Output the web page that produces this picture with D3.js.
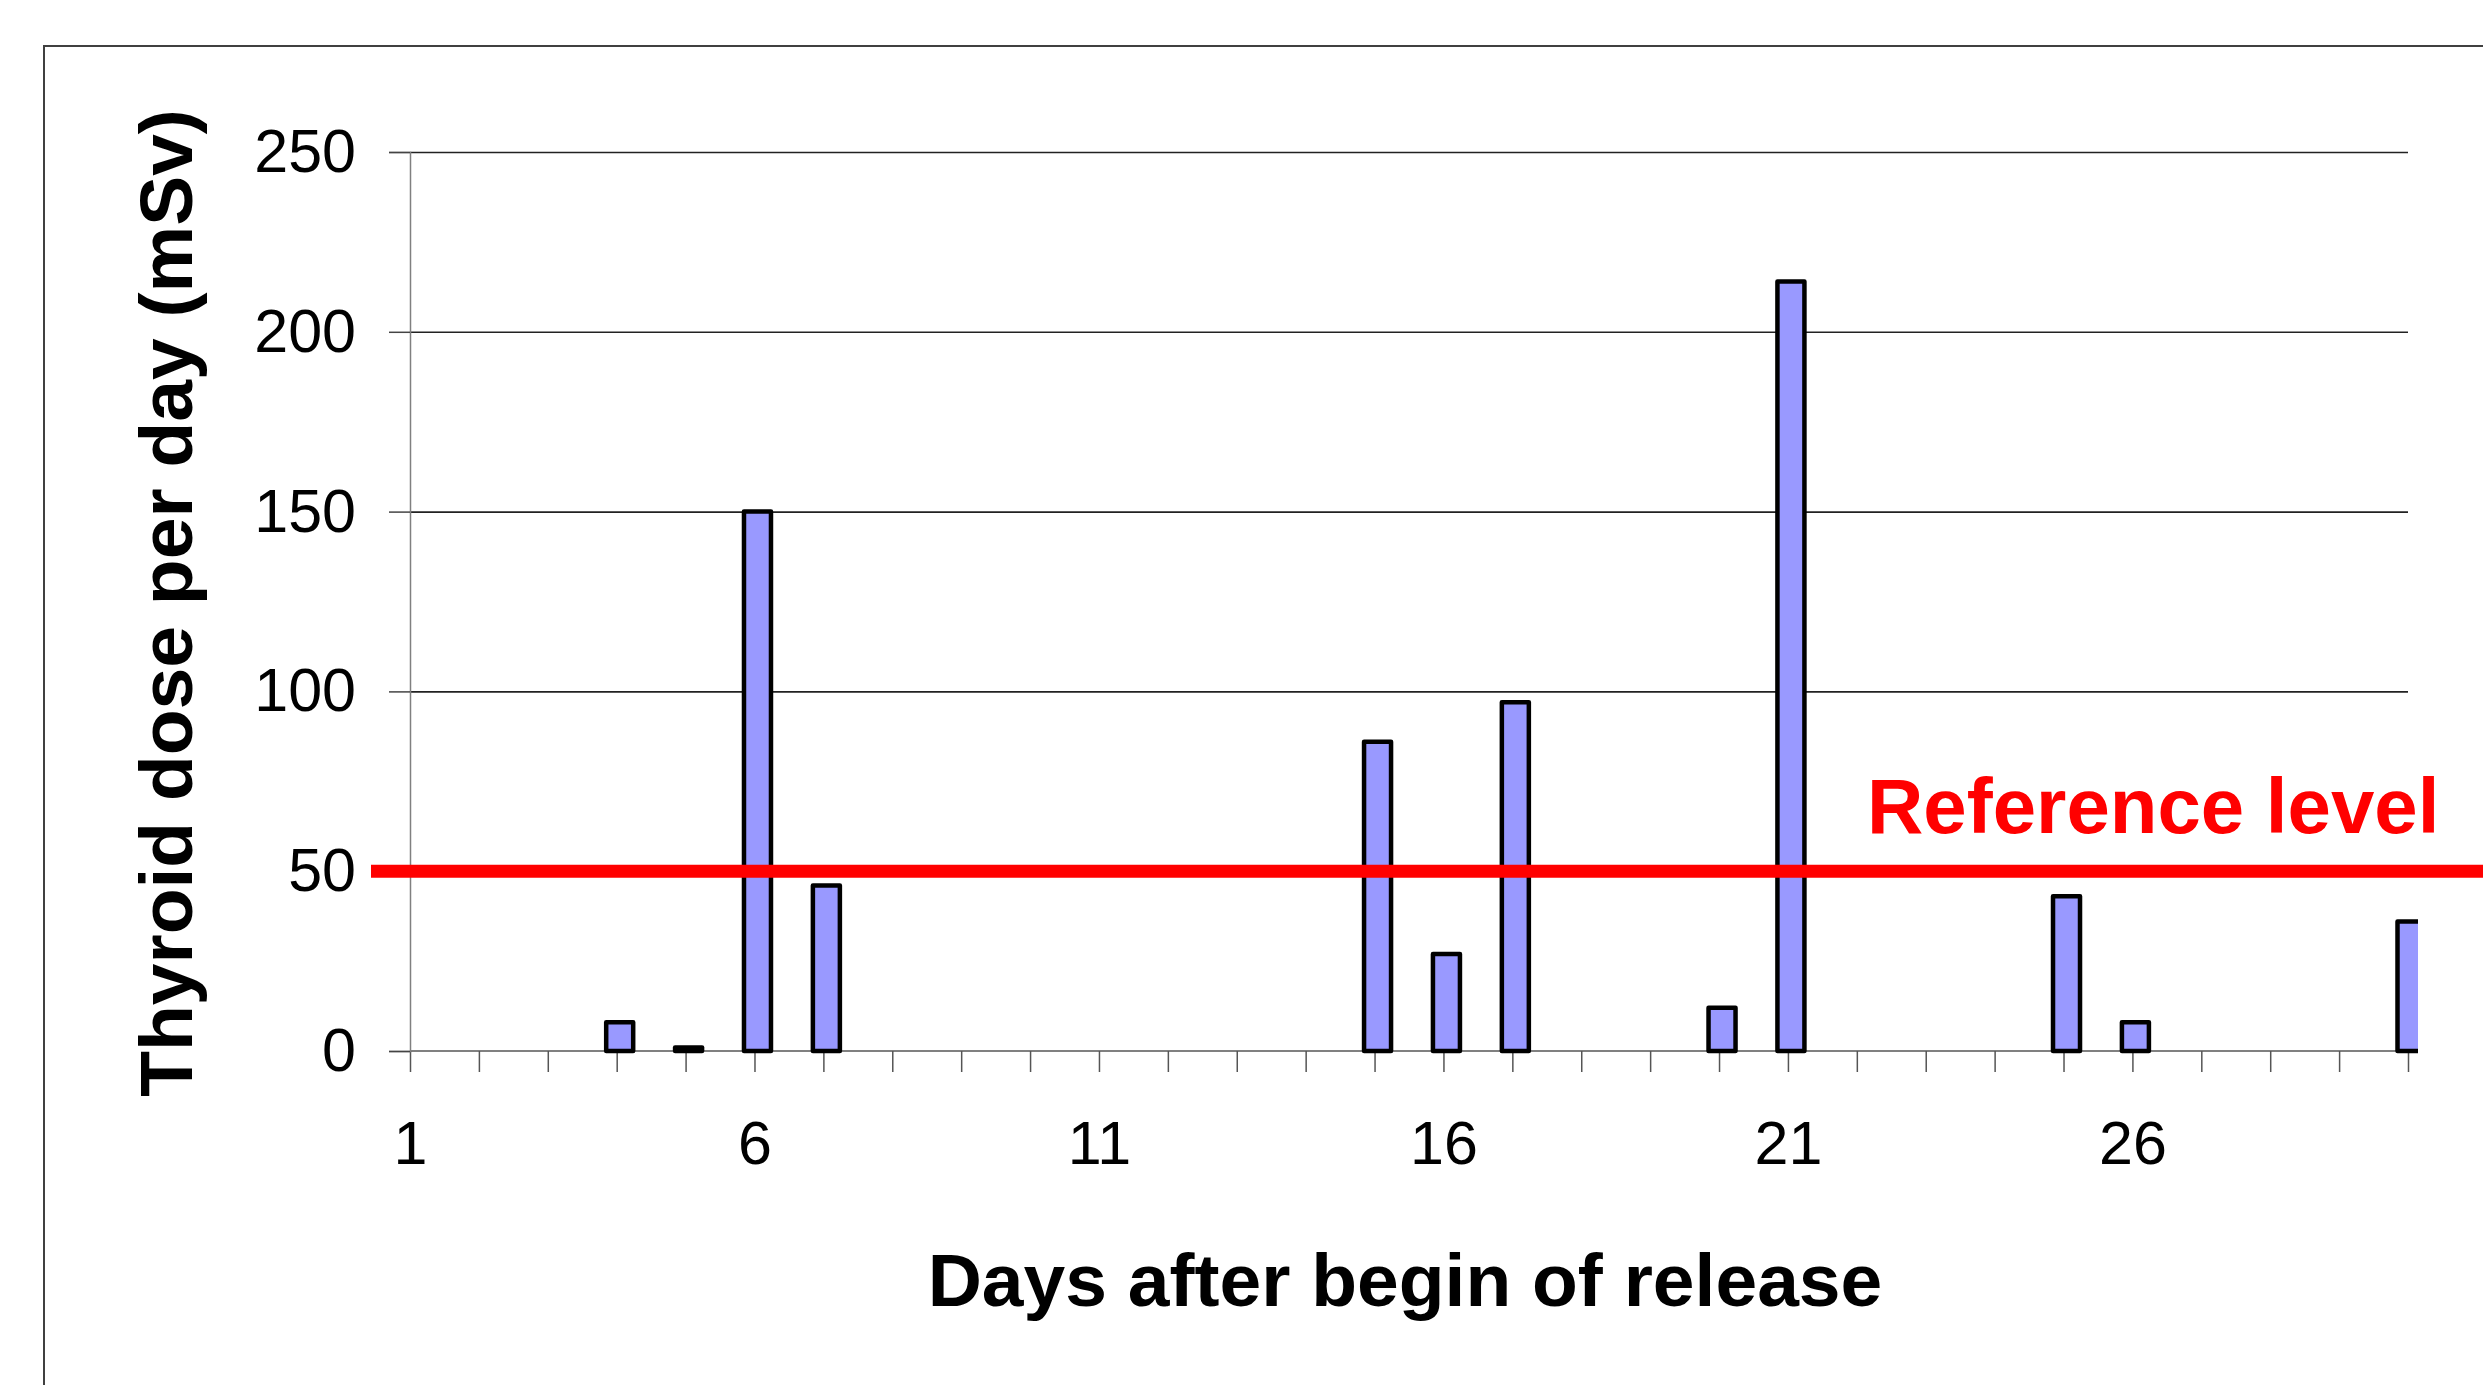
<!DOCTYPE html>
<html>
<head>
<meta charset="utf-8">
<script src="https://cdn.jsdelivr.net/npm/d3@7"></script>
<style>
  body { margin: 0; background: #fff; }
  text { font-family: "Liberation Sans", Arial, sans-serif; }
</style>
</head>
<body>
<div id="chart"></div>
<script>
const days = [1, 2, 3, 4, 5, 6, 7, 8, 9, 10, 11, 12, 13, 14, 15,
              16, 17, 18, 19, 20, 21, 22, 23, 24, 25, 26, 27, 28, 29, 30];
const dose = [0, 0, 0, 8, 1, 150, 46, 0, 0, 0, 0, 0, 0, 0, 86,
              27, 97, 0, 0, 12, 214, 0, 0, 0, 43, 8, 0, 0, 0, 36];
const yTicks = [0, 50, 100, 150, 200, 250];
const xLabelDays = [1, 6, 11, 16, 21, 26];
const referenceLevel = 50;

const W = 2483, H = 1385;
const plot = { left: 410, right: 2408, top: 152, bottom: 1051 };

const dataset = days.map((d, i) => ({ day: d, value: dose[i] }));

const svg = d3.select("#chart").append("svg")
    .attr("width", W)
    .attr("height", H);

// outer frame (cropped on right and bottom)
svg.append("rect")
    .attr("x", 44).attr("y", 46)
    .attr("width", W).attr("height", H)
    .attr("fill", "none")
    .attr("stroke", "#404040")
    .attr("stroke-width", 2);

const x = d3.scalePoint()
    .domain(days)
    .range([plot.left, plot.right]);

const y = d3.scaleLinear()
    .domain([0, 250])
    .range([plot.bottom, plot.top]);

const barW = 27;
const barShift = 3;

// gridlines
svg.append("g")
    .attr("transform", `translate(${plot.left},0)`)
    .call(d3.axisLeft(y).tickValues(yTicks.slice(1)).tickSize(-(plot.right - plot.left)).tickFormat(""))
    .call(g => g.select(".domain").remove())
    .selectAll("line")
    .attr("stroke", "#222")
    .attr("stroke-width", 1.6);

svg.append("defs").append("clipPath")
    .attr("id", "plotclip")
    .append("rect")
    .attr("x", plot.left).attr("y", 0)
    .attr("width", plot.right + 10 - plot.left)
    .attr("height", plot.bottom + 10);

// x axis (drawn before bars so bars sit on top)
const xAxis = svg.append("g")
    .attr("transform", `translate(0,${plot.bottom})`)
    .call(d3.axisBottom(x).tickValues(days).tickSize(21).tickPadding(49)
        .tickFormat(d => xLabelDays.includes(d) ? d : ""));
xAxis.select(".domain")
    .attr("d", `M${plot.left},0H${plot.right}`)
    .attr("stroke", "#808080").attr("stroke-width", 2);
xAxis.selectAll("line").attr("stroke", "#555").attr("stroke-width", 1.5);
xAxis.selectAll("text")
    .style("font-size", "61px")
    .style("font-family", "'Liberation Sans', Arial, sans-serif")
    .attr("fill", "#000");

// bars
svg.append("g")
    .attr("clip-path", "url(#plotclip)")
    .selectAll(".bar")
    .data(dataset.filter(d => d.value > 0))
    .enter()
    .append("rect")
    .attr("class", "bar")
    .attr("x", d => x(d.day) - barW / 2 + barShift)
    .attr("y", d => y(d.value))
    .attr("width", barW)
    .attr("height", d => y(0) - y(d.value))
    .attr("fill", "#9999FF")
    .attr("stroke", "#000")
    .attr("stroke-width", 4.5)
    .attr("stroke-linejoin", "round");

// y axis
const yAxis = svg.append("g")
    .attr("transform", `translate(${plot.left},0)`)
    .call(d3.axisLeft(y).tickValues(yTicks).tickSize(21).tickPadding(33));
yAxis.select(".domain").attr("stroke", "#808080").attr("stroke-width", 1.5);
yAxis.selectAll("line").attr("stroke", "#444").attr("stroke-width", 1.5);
yAxis.selectAll("text")
    .style("font-size", "61px")
    .style("font-family", "'Liberation Sans', Arial, sans-serif")
    .attr("fill", "#000");

// reference level line
svg.append("line")
    .attr("x1", 371).attr("x2", W)
    .attr("y1", y(referenceLevel)).attr("y2", y(referenceLevel))
    .attr("stroke", "#FF0000")
    .attr("stroke-width", 13);

svg.append("text")
    .attr("x", 1867)
    .attr("y", 833)
    .style("font-size", "78px")
    .style("font-weight", "bold")
    .attr("fill", "#FF0000")
    .text("Reference level");

// axis titles
svg.append("text")
    .attr("x", 1405)
    .attr("y", 1306)
    .attr("text-anchor", "middle")
    .style("font-size", "75px")
    .style("font-weight", "bold")
    .attr("fill", "#000")
    .text("Days after begin of release");

svg.append("text")
    .attr("transform", `translate(192,603) rotate(-90)`)
    .attr("text-anchor", "middle")
    .style("font-size", "75px")
    .style("font-weight", "bold")
    .attr("fill", "#000")
    .text("Thyroid dose per day (mSv)");
</script>
</body>
</html>
